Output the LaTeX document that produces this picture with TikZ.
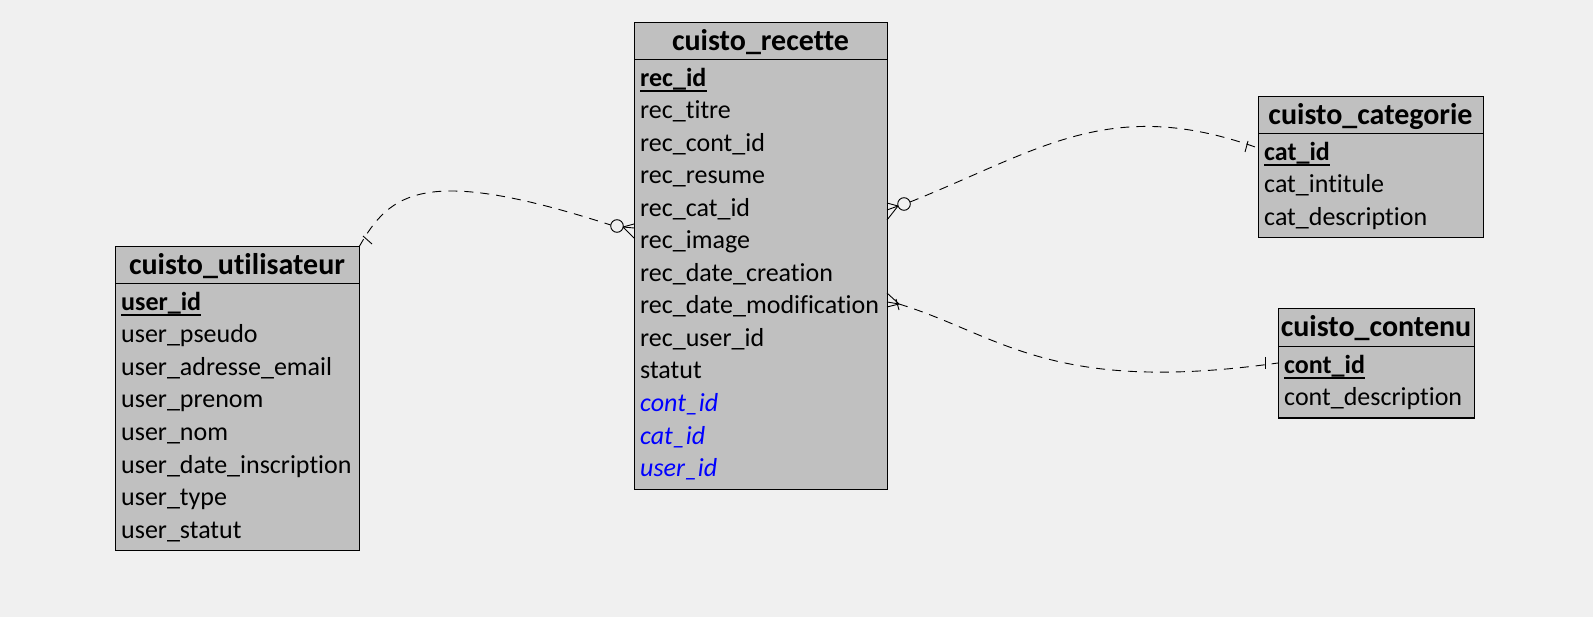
\documentclass[tikz,border=0pt]{standalone}
\usepackage{fontspec}
\setmainfont{Carlito}[Ligatures=NoCommon]
\usetikzlibrary{calc}
\definecolor{bg}{HTML}{F0F0F0}
\definecolor{tbl}{HTML}{C0C0C0}
\definecolor{fkc}{HTML}{0000FF}
\begin{document}
\begin{tikzpicture}[x=1pt,y=-1pt,
  tbox/.style={draw=black, fill=tbl, line width=1pt, inner sep=0pt, outer sep=0pt, anchor=north west},
  sepline/.style={line width=1pt},
  hdr/.style={font=\fontsize{30}{34}\selectfont\bfseries, anchor=base, inner sep=0pt},
  fld/.style={font=\fontsize{26}{30}\selectfont, anchor=base west, inner sep=0pt},
  pkf/.style={font=\fontsize{26}{30}\selectfont\bfseries, anchor=base west, inner sep=0pt},
  fkf/.style={font=\fontsize{26}{30}\selectfont\itshape, text=fkc, anchor=base west, inner sep=0pt},
  ul/.style={line width=1.2pt},
  rel/.style={dash pattern=on 9pt off 7pt, line width=0.9pt},
  sym/.style={line width=0.9pt}]
\useasboundingbox (0,0) rectangle (1593,617);
\fill[bg] (0,0) rectangle (1593,617);

% ---------- cuisto_recette
\node[tbox, minimum width=253pt, minimum height=466pt] (rec) at (634,23) {};
\draw[sepline] ($(rec.north west)+(0,37)$) -- ($(rec.north east)+(0,37)$);
\node[hdr] (rech) at ($(rec.north)+(0,28)$) {cuisto\_recette};
\node[pkf] (rec0) at ($(rec.north west)+(6,63.5)$) {rec\_id};
\draw[ul] ($(rec0.base west)+(0,4.5)$) -- ($(rec0.base east)+(0,4.5)$);
\foreach \t [count=\i] in {rec\_titre,rec\_cont\_id,rec\_resume,rec\_cat\_id,rec\_image,rec\_date\_creation,rec\_date\_modification,rec\_user\_id,statut}
  \node[fld] (rec\i) at ($(rec.north west)+(6,63.5+32.5*\i)$) {\t};
\foreach \t [count=\i from 10] in {cont\_id,cat\_id,user\_id}
  \node[fkf] (rec\i) at ($(rec.north west)+(6,63.5+32.5*\i)$) {\t};

% ---------- cuisto_utilisateur
\node[tbox, minimum width=244pt, minimum height=303pt] (usr) at (115,247) {};
\draw[sepline] ($(usr.north west)+(0,37)$) -- ($(usr.north east)+(0,37)$);
\node[hdr] (usrh) at ($(usr.north)+(0,28)$) {cuisto\_utilisateur};
\node[pkf] (usr0) at ($(usr.north west)+(6,63.5)$) {user\_id};
\draw[ul] ($(usr0.base west)+(0,4.5)$) -- ($(usr0.base east)+(0,4.5)$);
\foreach \t [count=\i] in {user\_pseudo,user\_adresse\_email,user\_prenom,user\_nom,user\_date\_inscription,user\_type,user\_statut}
  \node[fld] (usr\i) at ($(usr.north west)+(6,63.5+32.5*\i)$) {\t};

% ---------- cuisto_categorie
\node[tbox, minimum width=225pt, minimum height=141pt] (cat) at (1258,97) {};
\draw[sepline] ($(cat.north west)+(0,37)$) -- ($(cat.north east)+(0,37)$);
\node[hdr] (cath) at ($(cat.north)+(0,28)$) {cuisto\_categorie};
\node[pkf] (cat0) at ($(cat.north west)+(6,63.5)$) {cat\_id};
\draw[ul] ($(cat0.base west)+(0,4.5)$) -- ($(cat0.base east)+(0,4.5)$);
\foreach \t [count=\i] in {cat\_intitule,cat\_description}
  \node[fld] (cat\i) at ($(cat.north west)+(6,63.5+32.5*\i)$) {\t};

% ---------- cuisto_contenu
\node[tbox, minimum width=196pt, minimum height=109pt] (cont) at (1278,309) {};
\draw[sepline] ($(cont.north west)+(0,38)$) -- ($(cont.north east)+(0,38)$);
\node[hdr] (conth) at ($(cont.north)+(0,28)$) {cuisto\_contenu};
\node[pkf] (cont0) at ($(cont.north west)+(6,64.5)$) {cont\_id};
\draw[ul] ($(cont0.base west)+(0,4.5)$) -- ($(cont0.base east)+(0,4.5)$);
\node[fld] (cont1) at ($(cont.north west)+(6,97)$) {cont\_description};

% ---------- relation utilisateur -- recette
\coordinate (c1) at ($(rec.north west)+(-17,203)$);
\draw[rel] (usr.north east) .. controls (390,192) and (425,165) .. ($(c1)+(-6.3,-1)$);
\draw[sym] (363,236) -- (372,244);
\draw[sym] (c1) circle (6.3);
\draw[sym] ($(c1)+(6,1)$) -- ($(rec.north west)+(0,201)$);
\draw[sym] ($(c1)+(6,1)$) -- ($(rec.north west)+(0,205)$);
\draw[sym] ($(c1)+(6,1)$) -- ($(rec.north west)+(0,215)$);

% ---------- relation recette -- categorie
\coordinate (c2) at ($(rec.north east)+(17,181)$);
\draw[rel] ($(c2)+(6,-2)$) .. controls (1040,150) and (1110,95) .. ($(cat.north west)+(0,51)$);
\draw[sym] (1245,152) -- (1248,141);
\draw[sym] (c2) circle (6.3);
\draw[sym] ($(c2)+(-6,2)$) -- ($(rec.north east)+(0,180)$);
\draw[sym] ($(c2)+(-6,2)$) -- ($(rec.north east)+(0,187)$);
\draw[sym] ($(c2)+(-6,2)$) -- ($(rec.north east)+(0,197)$);

% ---------- relation recette -- contenu
\coordinate (c3) at ($(rec.north east)+(12,281)$);
\draw[rel] (c3) .. controls (1000,335) and (1050,395) .. ($(cont.north west)+(0,54)$);
\draw[sym] (c3) -- ($(rec.north east)+(0,270)$);
\draw[sym] (c3) -- ($(rec.north east)+(0,279)$);
\draw[sym] (c3) -- ($(rec.north east)+(0,284)$);
\draw[sym] (896,299) -- (899,310);
\draw[sym] (1265,357) -- (1265,369);
\end{tikzpicture}
\end{document}
